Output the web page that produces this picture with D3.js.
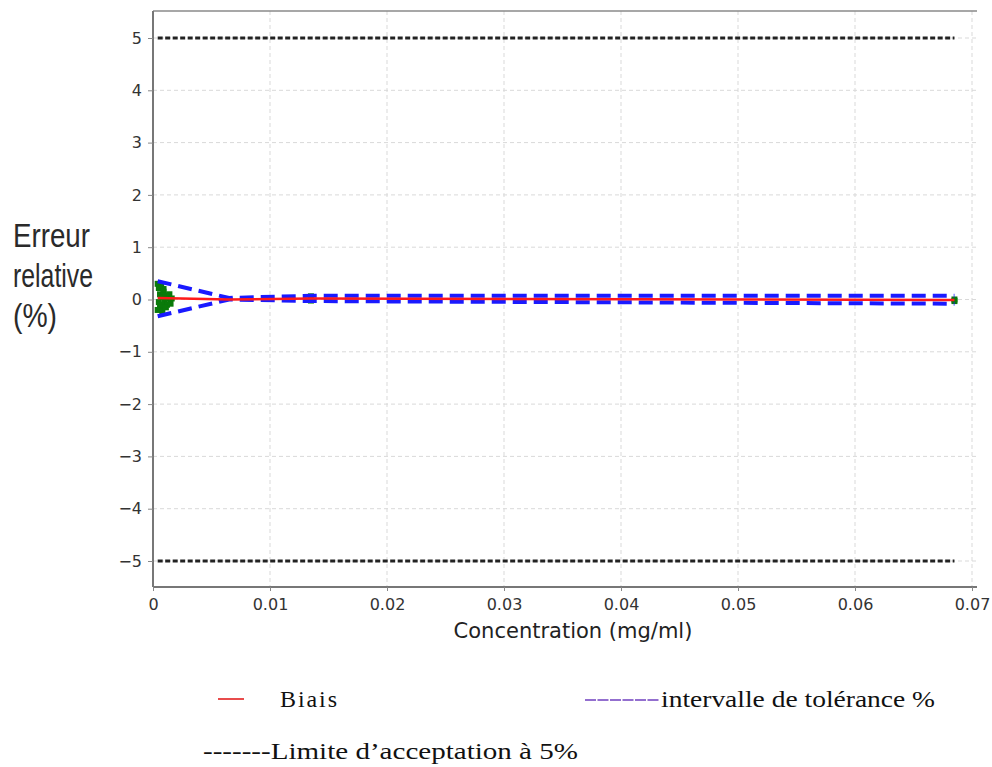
<!DOCTYPE html>
<html><head><meta charset="utf-8">
<script src="https://cdn.jsdelivr.net/npm/d3@7"></script>
<style>body{margin:0;background:#fff}svg{display:block}</style>
</head><body>
<script>
// ---- data ----
const xTicks = [0, 0.01, 0.02, 0.03, 0.04, 0.05, 0.06, 0.07];
const xTickLabels = ["0", "0.01", "0.02", "0.03", "0.04", "0.05", "0.06", "0.07"];
const yTicks = [-5, -4, -3, -2, -1, 0, 1, 2, 3, 4, 5];
const levelX = [0.0004, 0.0065, 0.0135, 0.0685];
const biais = [0.03, 0.0, 0.02, -0.01];
const tolUpper = [0.35, 0.03, 0.07, 0.07];
const tolLower = [-0.32, 0.0, -0.03, -0.08];
const limitX = [0.0004, 0.0685];
const limitUp = [5, 5];
const limitLow = [-5, -5];
const obsX = [0.0004, 0.0004, 0.0005, 0.0006, 0.0006, 0.0007, 0.0008, 0.0008, 0.0009, 0.001, 0.0011, 0.0012, 0.0013, 0.0005, 0.0007, 0.0009, 0.0011, 0.0014, 0.0015, 0.0016, 0.0135, 0.0135, 0.0685, 0.0685];
const obsY = [0.3, -0.2, 0.22, 0.1, -0.15, 0.25, 0.05, -0.22, 0.15, -0.05, 0.08, -0.1, 0.02, -0.05, -0.1, 0.2, -0.15, 0.1, -0.08, 0.02, 0.06, -0.02, 0.0, -0.03];
const yTitleLines = ["Erreur", "relative", "(%)"];
const xTitle = "Concentration (mg/ml)";
const legendItems = ["Biais", "intervalle de tolérance %", "-------Limite d\u2019acceptation à 5%"];

// ---- layout ----
const W = 992, H = 767;
const svg = d3.select("body").append("svg").attr("width", W).attr("height", H);
const x = d3.scaleLinear().domain([0, 0.07]).range([153, 972]);
const y = d3.scaleLinear().domain([-5, 5]).range([561, 38]);
const pL = 153, pR = 977, pT = 11, pB = 587;

// grid
const g = svg.append("g");
g.selectAll(".vg").data(xTicks).join("line")
  .attr("x1", d => x(d)).attr("x2", d => x(d)).attr("y1", pT).attr("y2", pB)
  .attr("stroke", "#d9d9d9").attr("stroke-width", 1).attr("stroke-dasharray", "4,3");
g.selectAll(".hg").data(yTicks).join("line")
  .attr("x1", pL).attr("x2", pR).attr("y1", d => y(d)).attr("y2", d => y(d))
  .attr("stroke", "#d9d9d9").attr("stroke-width", 1).attr("stroke-dasharray", "4,3");

// frame top
svg.append("line").attr("x1", pL).attr("x2", pR).attr("y1", pT).attr("y2", pT)
  .attr("stroke", "#8a8a8a").attr("stroke-width", 1.5);

// axes
const xAxis = d3.axisBottom(x).tickValues(xTicks).tickFormat((d, i) => xTickLabels[i]).tickSize(4).tickSizeOuter(0);
const xa = svg.append("g").attr("transform", `translate(0,${pB})`).call(xAxis);
xa.attr("font-size", null).attr("font-family", null);
xa.select(".domain").attr("d", `M${pL},0H${pR}`).attr("stroke", "#777").attr("stroke-width", 2);
xa.selectAll(".tick line").attr("stroke", "#888");
xa.selectAll(".tick text").style("font-family", "DejaVu Sans").style("font-size", "16px").attr("fill", "#333").attr("y", 23).attr("dy", 0);

const yAxis = d3.axisLeft(y).tickValues(yTicks).tickFormat(d => d < 0 ? "\u2212" + Math.abs(d) : d).tickSize(5).tickSizeOuter(0);
const ya = svg.append("g").attr("transform", `translate(${pL},0)`).call(yAxis);
ya.attr("font-size", null).attr("font-family", null);
ya.select(".domain").attr("d", `M0,${pT}V${pB}`).attr("stroke", "#777").attr("stroke-width", 2);
ya.selectAll(".tick line").attr("stroke", "#888");
ya.selectAll(".tick text").style("font-family", "DejaVu Sans").style("font-size", "16px").attr("fill", "#333").attr("x", -11);

// axis titles
svg.append("text").attr("x", 573).attr("y", 638).attr("text-anchor", "middle")
  .attr("font-family", "DejaVu Sans").attr("font-size", 21).attr("fill", "#222").text(xTitle);
const ylW = [77, 80, 44];
yTitleLines.forEach((t, i) => {
  svg.append("text").attr("x", 13).attr("y", 247 + i * 40)
    .attr("font-family", "'Liberation Sans', sans-serif").attr("font-size", 33).attr("fill", "#2a2a2a")
    .attr("textLength", ylW[i]).attr("lengthAdjust", "spacingAndGlyphs").text(t);
});

// limit lines
const line = d3.line().x(d => x(d[0])).y(d => y(d[1]));
[limitUp, limitLow].forEach(arr => {
  svg.append("path").datum(limitX.map((v, i) => [v, arr[i]])).attr("d", line)
    .attr("fill", "none").attr("stroke", "#222").attr("stroke-width", 3).attr("stroke-dasharray", "5,2.5");
});

// observations
svg.selectAll(".obs").data(obsX.map((v, i) => [v, obsY[i]])).join("rect")
  .attr("x", d => x(d[0]) - 3).attr("y", d => y(d[1]) - 3).attr("width", 6).attr("height", 6)
  .attr("fill", "#0a7a0a");

// tolerance
[tolUpper, tolLower].forEach(arr => {
  svg.append("path").datum(levelX.map((v, i) => [v, arr[i]])).attr("d", line)
    .attr("fill", "none").attr("stroke", "#1a1aff").attr("stroke-width", 4).attr("stroke-dasharray", "14,7");
});
// bias
svg.append("path").datum(levelX.map((v, i) => [v, biais[i]])).attr("d", line)
  .attr("fill", "none").attr("stroke", "#ff1a1a").attr("stroke-width", 2.5);

// legend
const lf = "'Liberation Serif', 'Times New Roman', serif";
svg.append("line").attr("x1", 218).attr("x2", 244).attr("y1", 699).attr("y2", 699).attr("stroke", "#e01010").attr("stroke-width", 1.5);
svg.append("text").attr("x", 280).attr("y", 707).attr("font-family", lf).attr("font-size", 24).attr("fill", "#111")
  .attr("textLength", 57).attr("lengthAdjust", "spacing").text(legendItems[0]);
svg.append("line").attr("x1", 585).attr("x2", 660).attr("y1", 700).attr("y2", 700).attr("stroke", "#7040c0").attr("stroke-width", 1.5).attr("stroke-dasharray", "11,1.5");
svg.append("text").attr("x", 661).attr("y", 707).attr("font-family", lf).attr("font-size", 24).attr("fill", "#111")
  .attr("textLength", 274).attr("lengthAdjust", "spacingAndGlyphs").text(legendItems[1]);
svg.append("text").attr("x", 203).attr("y", 759).attr("font-family", lf).attr("font-size", 24).attr("fill", "#111")
  .attr("textLength", 375).attr("lengthAdjust", "spacingAndGlyphs").text(legendItems[2]);
</script>
</body></html>
